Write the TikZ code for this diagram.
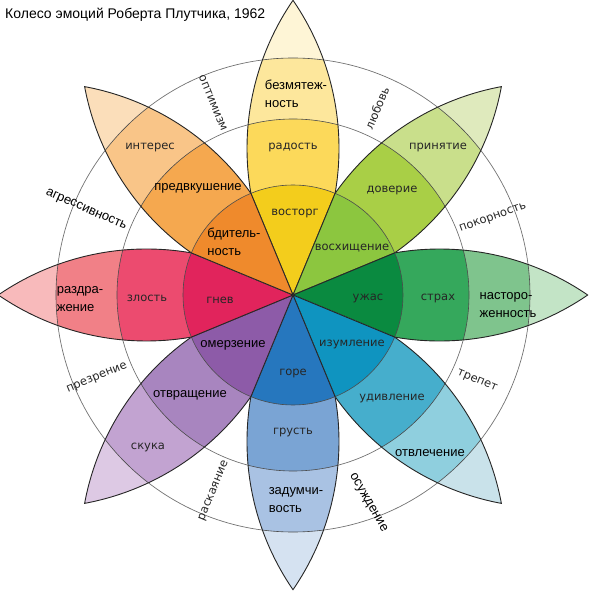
\documentclass[tikz,border=0pt]{standalone}
\usepackage{fontspec}
\setmainfont{Liberation Sans}
\newfontfamily\verdfont{DejaVu Sans}
\usepackage{xcolor}
\usepackage{tikz}

\definecolor{joyIn}{HTML}{F3CD1C}
\definecolor{joyMid}{HTML}{FCD95A}
\definecolor{joyOut}{HTML}{FDE79C}
\definecolor{joyTip}{HTML}{FEF5D6}
\definecolor{trustIn}{HTML}{8CC63F}
\definecolor{trustMid}{HTML}{A9CF46}
\definecolor{trustOut}{HTML}{C9DF8B}
\definecolor{trustTip}{HTML}{DFEABD}
\definecolor{fearIn}{HTML}{0A8A40}
\definecolor{fearMid}{HTML}{35A85C}
\definecolor{fearOut}{HTML}{7FC48D}
\definecolor{fearTip}{HTML}{C3E4C6}
\definecolor{surpIn}{HTML}{0F94C0}
\definecolor{surpMid}{HTML}{46AECC}
\definecolor{surpOut}{HTML}{8FCFDE}
\definecolor{surpTip}{HTML}{C9E2EA}
\definecolor{sadIn}{HTML}{2677BE}
\definecolor{sadMid}{HTML}{7AA4D4}
\definecolor{sadOut}{HTML}{A9C2E3}
\definecolor{sadTip}{HTML}{D5E2F1}
\definecolor{disgIn}{HTML}{8D5BA8}
\definecolor{disgMid}{HTML}{A885BF}
\definecolor{disgOut}{HTML}{C2A3D1}
\definecolor{disgTip}{HTML}{DDC9E4}
\definecolor{angerIn}{HTML}{E1245C}
\definecolor{angerMid}{HTML}{EC4B6F}
\definecolor{angerOut}{HTML}{F18087}
\definecolor{angerTip}{HTML}{F8BABB}
\definecolor{anticIn}{HTML}{EF8A2C}
\definecolor{anticMid}{HTML}{F5A84F}
\definecolor{anticOut}{HTML}{F9C588}
\definecolor{anticTip}{HTML}{FBDEBA}

% one petal, pointing along the x axis
\newcommand{\petalshape}{(0,0) -- (22.5:110) arc[start angle=99.9, end angle=55.5, radius=261.5] arc[start angle=-55.5, end angle=-99.9, radius=261.5] -- cycle}

\begin{document}
\begin{tikzpicture}[
    x=1pt, y=1pt,
    every node/.style={inner sep=1pt},
    lbl/.style={font=\verdfont\fontsize{11.5}{16}\selectfont, text=black!85},
    lblb/.style={font=\fontsize{13}{18}\selectfont, align=left, text=black},
    ringlbl/.style={font=\verdfont\fontsize{11.5}{14}\selectfont, text=black!85},
    ringlblb/.style={font=\fontsize{13}{16}\selectfont, text=black},
    band/.style={draw=black!70, line width=0.6pt},
    outline/.style={draw=black!85, line width=0.9pt},
    guide/.style={draw=black!55, line width=0.7pt}
]
\useasboundingbox (-293,-296) rectangle (296,295);
\draw[guide] (0,0) circle[radius=176];
\draw[guide] (0,0) circle[radius=237];
\foreach \ang/\emo in {90/joy, 45/trust, 0/fear, -45/surp, -90/sad, -135/disg, 180/anger, 135/antic}{
  \begin{scope}[rotate=\ang]
    \begin{scope}
      \clip \petalshape;
      \fill[fill=\emo Tip] (-300,-300) rectangle (300,300);
      \fill[fill=\emo Out] (0,0) circle[radius=237];
      \fill[fill=\emo Mid] (0,0) circle[radius=176];
      \fill[fill=\emo In] (0,0) circle[radius=110];
      \draw[band] (0,0) circle[radius=110] (0,0) circle[radius=176] (0,0) circle[radius=237];
    \end{scope}
    \draw[outline] \petalshape;
  \end{scope}
}
\node[anchor=west, font=\fontsize{14}{16}\selectfont] (title) at (-289,280) {Колесо эмоций Роберта Плутчика, 1962};
% joy
\node[lblb] (serenity) at (3,201) {безмятеж-\\ность};
\node[lbl] (joy) at (0,148) {радость};
\node[lbl] (ecstasy) at (2,82) {восторг};
% anticipation
\node[lbl] (interest) at (-143,148) {интерес};
\node[lblb] (anticipation) at (-95,107) {предвкушение};
\node[lblb] (vigilance) at (-59,53) {бдитель-\\ность};
% trust
\node[lbl] (acceptance) at (145,148) {принятие};
\node[lbl] (trust) at (99,105) {доверие};
\node[lbl] (admiration) at (59,47) {восхищение};
% anger
\node[lblb] (annoyance) at (-213,-4) {раздра-\\жение};
\node[lbl] (anger) at (-146,-3) {злость};
\node[lbl] (rage) at (-73,-5) {гнев};
% fear
\node[lbl] (terror) at (75,-3) {ужас};
\node[lbl] (fear) at (145,-3) {страх};
\node[lblb] (apprehension) at (215,-10) {насторо-\\женность};
% disgust
\node[lblb] (loathing) at (-60,-50) {омерзение};
\node[lblb] (disgust) at (-103,-100) {отвращение};
\node[lbl] (boredom) at (-145,-152) {скука};
% surprise
\node[lbl] (amazement) at (59,-49) {изумление};
\node[lbl] (surprise) at (99,-103) {удивление};
\node[lblb] (distraction) at (137,-158) {отвлечение};
% sadness
\node[lbl] (grief) at (0,-78) {горе};
\node[lbl] (sadness) at (0,-137) {грусть};
\node[lblb] (pensiveness) at (3,-205) {задумчи-\\вость};
% dyads between the petals
\node[ringlbl, rotate=-67.5] (optimism) at (-80,192) {оптимизм};
\node[ringlbl, rotate=67.5] (love) at (84,187) {любовь};
\node[ringlbl, rotate=20] (submission) at (200,77) {покорность};
\node[ringlbl, rotate=-22.5] (awe) at (184,-86) {трепет};
\node[ringlblb, rotate=-60] (disapproval) at (75,-208) {осуждение};
\node[ringlbl, rotate=67.5] (remorse) at (-79,-196) {раскаяние};
\node[ringlbl, rotate=22.5] (contempt) at (-196,-83) {презрение};
\node[ringlblb, rotate=-24] (aggressiveness) at (-207,85) {агрессивность};
\end{tikzpicture}
\end{document}
